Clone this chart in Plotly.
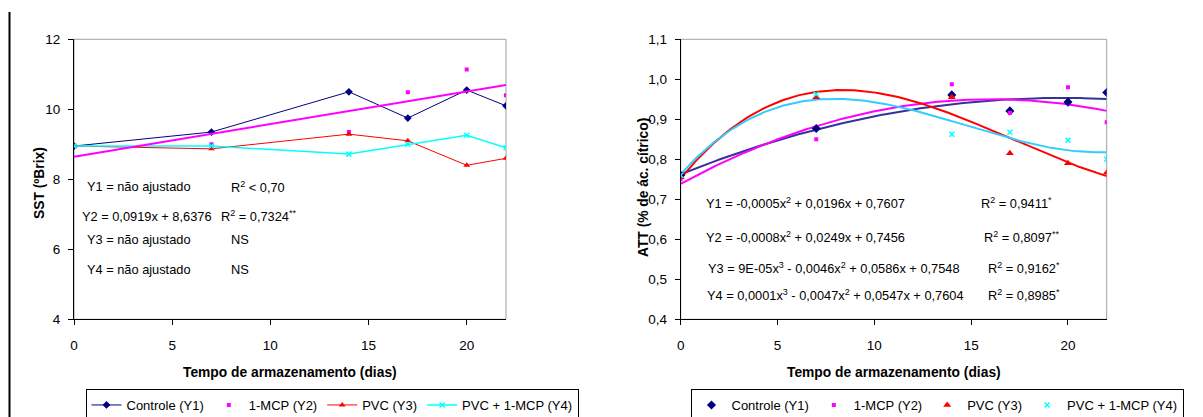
import numpy as np
import plotly.graph_objects as go

# ---------------- data ----------------
dias = [0, 7, 14, 17, 20, 22]
x_ticks = [0, 5, 10, 15, 20]

sst_controle = [8.95, 9.35, 10.5, 9.75, 10.55, 10.1]
sst_1mcp = [8.95, 9.0, 9.35, 10.49, 11.14, 10.4]
sst_pvc = [8.95, 8.87, 9.29, 9.1, 8.4, 8.6]
sst_pvc_1mcp = [8.95, 8.95, 8.72, 9.0, 9.26, 8.9]

att_controle = [0.76, 0.877, 0.961, 0.921, 0.943, 0.967]
att_1mcp = [0.75, 0.85, 0.9875, 0.916, 0.98, 0.8925]
att_pvc = [0.755, 0.955, 0.955, 0.815, 0.79, 0.7665]
att_pvc_1mcp = [0.76, 0.9625, 0.8625, 0.8675, 0.8475, 0.80]

series_names = ["Controle (Y1)", "1-MCP (Y2)", "PVC (Y3)", "PVC + 1-MCP (Y4)"]

sst_ticks = [4, 6, 8, 10, 12]
att_ticks = [0.4, 0.5, 0.6, 0.7, 0.8, 0.9, 1.0, 1.1]
att_ticklabels = ["0,4", "0,5", "0,6", "0,7", "0,8", "0,9", "1,0", "1,1"]

sst_equations = [
    ("Y1 = não ajustado", "R<sup>2</sup> < 0,70"),
    ("Y2 = 0,0919x + 8,6376", "R<sup>2</sup> = 0,7324<sup>**</sup>"),
    ("Y3 = não ajustado", "NS"),
    ("Y4 = não ajustado", "NS"),
]
att_equations = [
    ("Y1 = -0,0005x<sup>2</sup> + 0,0196x + 0,7607", "R<sup>2</sup> = 0,9411<sup>*</sup>"),
    ("Y2 = -0,0008x<sup>2</sup> + 0,0249x + 0,7456", "R<sup>2</sup> = 0,8097<sup>**</sup>"),
    ("Y3 = 9E-05x<sup>3</sup> - 0,0046x<sup>2</sup> + 0,0586x + 0,7548", "R<sup>2</sup> = 0,9162<sup>*</sup>"),
    ("Y4 = 0,0001x<sup>3</sup> - 0,0047x<sup>2</sup> + 0,0547x + 0,7604", "R<sup>2</sup> = 0,8985<sup>*</sup>"),
]

# ---------------- styles ----------------
# the page body has an 8 px margin, so the figure is 8 px smaller and all
# page-pixel positions are shifted by that offset
OFF = 8
W, H = 1203 - OFF, 417 - OFF
FONT = "Liberation Sans, Arial, sans-serif"
NAVY = "#000080"
MAG = "#FF00FF"
RED = "#FF0000"
CYAN = "#00FFFF"
LBLUE = "#33CCFF"
CURVE_NAVY = "#333399"


def px(x):
    return (x - OFF) / W


def py(y):
    return 1 - (y - OFF) / H


fig = go.Figure()

# ---------- left chart (SST) ----------
fig.add_trace(go.Scatter(x=dias, y=sst_controle, name=series_names[0], mode="lines+markers",
                         line=dict(color=NAVY, width=1),
                         marker=dict(symbol="diamond", size=6, color=NAVY),
                         xaxis="x", yaxis="y", legend="legend"))
fig.add_trace(go.Scatter(x=dias, y=sst_1mcp, name=series_names[1], mode="markers",
                         marker=dict(symbol="square", size=4, color=MAG),
                         xaxis="x", yaxis="y", legend="legend"))
fig.add_trace(go.Scatter(x=dias, y=sst_pvc, name=series_names[2], mode="lines+markers",
                         line=dict(color=RED, width=1),
                         marker=dict(symbol="triangle-up", size=6, color=RED),
                         xaxis="x", yaxis="y", legend="legend"))
fig.add_trace(go.Scatter(x=dias, y=sst_pvc_1mcp, name=series_names[3], mode="lines+markers",
                         line=dict(color=CYAN, width=1.5),
                         marker=dict(symbol="x-thin", size=5, color=CYAN, line=dict(color=CYAN, width=1.5)),
                         xaxis="x", yaxis="y", legend="legend"))

# linear trend for 1-MCP
xs_lin = np.linspace(min(dias), max(dias), 50)
c_lin = np.polyfit(dias, sst_1mcp, 1)
fig.add_trace(go.Scatter(x=xs_lin, y=np.polyval(c_lin, xs_lin), mode="lines",
                         line=dict(color=MAG, width=2), showlegend=False, hoverinfo="skip",
                         xaxis="x", yaxis="y"))

# ---------- right chart (ATT) ----------
xs = np.linspace(min(dias), max(dias), 200)
fits = [(att_controle, 2, CURVE_NAVY), (att_1mcp, 2, MAG), (att_pvc, 3, RED), (att_pvc_1mcp, 3, LBLUE)]
for vals, deg, col in fits:
    c = np.polyfit(dias, vals, deg)
    fig.add_trace(go.Scatter(x=xs, y=np.polyval(c, xs), mode="lines",
                             line=dict(color=col, width=2), showlegend=False, hoverinfo="skip",
                             xaxis="x2", yaxis="y2"))

fig.add_trace(go.Scatter(x=dias, y=att_controle, name=series_names[0], mode="markers",
                         marker=dict(symbol="diamond", size=7, color=NAVY),
                         xaxis="x2", yaxis="y2", legend="legend2"))
fig.add_trace(go.Scatter(x=dias, y=att_1mcp, name=series_names[1], mode="markers",
                         marker=dict(symbol="square", size=4, color=MAG),
                         xaxis="x2", yaxis="y2", legend="legend2"))
fig.add_trace(go.Scatter(x=dias, y=att_pvc, name=series_names[2], mode="markers",
                         marker=dict(symbol="triangle-up", size=7, color=RED),
                         xaxis="x2", yaxis="y2", legend="legend2"))
fig.add_trace(go.Scatter(x=dias, y=att_pvc_1mcp, name=series_names[3], mode="markers",
                         marker=dict(symbol="x-thin", size=5, color=CYAN, line=dict(color=CYAN, width=1.5)),
                         xaxis="x2", yaxis="y2", legend="legend2"))

# ---------- axes ----------
L_X0, L_X1 = 74, 506
R_X0, R_X1 = 680.7, 1106.7
Y_TOP, Y_BOT = 39.3, 319.3
TICK_SIZE = 13.5

axis_common = dict(showgrid=False, zeroline=False, showline=True, linecolor="#000000", linewidth=1,
                   ticks="outside", ticklen=5, tickcolor="#000000", automargin=False,
                   tickfont=dict(family=FONT, size=TICK_SIZE, color="#000000"), mirror=False)

legend_common = dict(y=py(389), xanchor="center", yanchor="top", orientation="h",
                     bordercolor="#000000", borderwidth=1, bgcolor="white",
                     font=dict(family=FONT, size=13, color="#000000"), itemwidth=30,
                     tracegroupgap=0)

fig.update_layout(
    width=W, height=H,
    margin=dict(l=0, r=0, t=0, b=0, autoexpand=False),
    paper_bgcolor="white", plot_bgcolor="white",
    font=dict(family=FONT, size=13, color="#000000"),
    xaxis=dict(domain=[px(L_X0), px(L_X1)], range=[0, 22], tickvals=x_ticks, anchor="y",
               ticklabelstandoff=8, **axis_common),
    yaxis=dict(domain=[py(Y_BOT), py(Y_TOP)], range=[4, 12], tickvals=sst_ticks, anchor="x",
               ticklabelstandoff=5, **axis_common),
    xaxis2=dict(domain=[px(R_X0), px(R_X1)], range=[0, 22], tickvals=x_ticks, anchor="y2",
                ticklabelstandoff=8, **axis_common),
    yaxis2=dict(domain=[py(Y_BOT), py(Y_TOP)], range=[0.4, 1.1], tickvals=att_ticks,
                ticktext=att_ticklabels, anchor="x2", ticklabelstandoff=5, **axis_common),
    legend=dict(x=px(332), **legend_common),
    legend2=dict(x=px(937), **legend_common),
    showlegend=True,
)

# plot area borders (grey top/right)
shapes = []
for x0, x1 in [(L_X0, L_X1), (R_X0, R_X1)]:
    shapes.append(dict(type="rect", xref="paper", yref="paper", x0=px(x0), x1=px(x1),
                       y0=py(Y_BOT), y1=py(Y_TOP), line=dict(color="#A0A0A0", width=1), layer="below"))
# black vertical frame line at the far left
shapes.append(dict(type="line", xref="paper", yref="paper", x0=px(9.5), x1=px(9.5), y0=py(12), y1=0,
                   line=dict(color="#000000", width=2)))
fig.update_layout(shapes=shapes)

annotations = []
# axis titles
title_font = dict(family=FONT, size=13.8, color="#000000")
annotations.append(dict(text="<b>Tempo de armazenamento (dias)</b>", xref="paper", yref="paper",
                        x=px((L_X0 + L_X1) / 2), y=py(372), showarrow=False, font=title_font,
                        xanchor="center", yanchor="middle"))
annotations.append(dict(text="<b>Tempo de armazenamento (dias)</b>", xref="paper", yref="paper",
                        x=px((R_X0 + R_X1) / 2), y=py(372), showarrow=False, font=title_font,
                        xanchor="center", yanchor="middle"))
annotations.append(dict(text="<b>SST (ºBrix)</b>", xref="paper", yref="paper",
                        x=px(40), y=py(183), showarrow=False, font=title_font, textangle=-90,
                        xanchor="center", yanchor="middle"))
annotations.append(dict(text="<b>ATT (% de ác. cítrico)</b>", xref="paper", yref="paper",
                        x=px(643), y=py(188), showarrow=False, font=title_font, textangle=-90,
                        xanchor="center", yanchor="middle"))

eq_font = dict(family=FONT, size=12.8, color="#000000")
sst_eq_pos = [(85, 229, 187), (80, 219, 216), (85, 229, 240), (85, 229, 269)]
for (eq, r2), (xe, xr, ye) in zip(sst_equations, sst_eq_pos):
    annotations.append(dict(text=eq, xref="paper", yref="paper", x=px(xe), y=py(ye), showarrow=False,
                            font=eq_font, xanchor="left", yanchor="middle"))
    annotations.append(dict(text=r2, xref="paper", yref="paper", x=px(xr), y=py(ye), showarrow=False,
                            font=eq_font, xanchor="left", yanchor="middle"))

att_eq_pos = [(704, 979, 203), (704, 982, 237), (706, 986, 268), (705, 986, 295)]
for (eq, r2), (xe, xr, ye) in zip(att_equations, att_eq_pos):
    annotations.append(dict(text=eq, xref="paper", yref="paper", x=px(xe), y=py(ye), showarrow=False,
                            font=eq_font, xanchor="left", yanchor="middle"))
    annotations.append(dict(text=r2, xref="paper", yref="paper", x=px(xr), y=py(ye), showarrow=False,
                            font=eq_font, xanchor="left", yanchor="middle"))

fig.update_layout(annotations=annotations)

fig.write_html("out.html")
